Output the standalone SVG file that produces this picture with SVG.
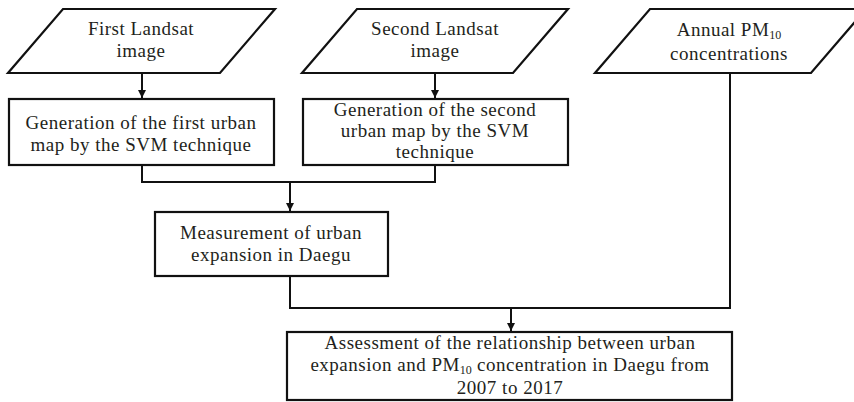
<svg xmlns="http://www.w3.org/2000/svg" width="854" height="402" viewBox="0 0 854 402">
  <style>
    .shape { fill: #ffffff; stroke: #111111; stroke-width: 2.2; }
    .link { fill: none; stroke: #111111; stroke-width: 2; }
    text { font-family: "Liberation Serif", "Times New Roman", serif; font-size: 19px; letter-spacing: 0.5px; fill: #231f20; text-anchor: middle; }
    .sub { font-size: 12px; letter-spacing: 0; }
  </style>
  <defs>
    <marker id="arrow" viewBox="0 0 10 10" refX="10" refY="5" markerWidth="4" markerHeight="4" orient="auto" markerUnits="strokeWidth">
      <path d="M0,0 L10,5 L0,10 Z" fill="#111111"/>
    </marker>
  </defs>
  <rect width="854" height="402" fill="#ffffff"/>

  <!-- connectors -->
  <g id="connectors">
    <path class="link" d="M142,73 V98" marker-end="url(#arrow)"/>
    <path class="link" d="M435,73 V98" marker-end="url(#arrow)"/>
    <path class="link" d="M142,165 V182 H435 V165"/>
    <path class="link" d="M290,182 V211" marker-end="url(#arrow)"/>
    <path class="link" d="M290,276 V308 H730 V73"/>
    <path class="link" d="M511,308 V331" marker-end="url(#arrow)"/>
  </g>

  <g id="first-landsat">
    <polygon class="shape" points="63,9 275,9 220,73 8,73"/>
    <text x="141" y="35">First Landsat</text>
    <text x="141" y="57">image</text>
  </g>

  <g id="second-landsat">
    <polygon class="shape" points="357,9 568,9 513,73 302,73"/>
    <text x="435" y="35">Second Landsat</text>
    <text x="435" y="57">image</text>
  </g>

  <g id="annual-pm10">
    <polygon class="shape" points="650,9 866,9 811,73 595,73"/>
    <text x="729" y="36">Annual PM<tspan class="sub" dy="3">10</tspan></text>
    <text x="729" y="60">concentrations</text>
  </g>

  <g id="first-urban-map">
    <rect class="shape" x="9" y="99" width="265" height="66"/>
    <text x="141" y="129">Generation of the first urban</text>
    <text x="141" y="151">map by the SVM technique</text>
  </g>

  <g id="second-urban-map">
    <rect class="shape" x="303" y="99" width="265" height="66"/>
    <text x="435" y="116">Generation of the second</text>
    <text x="435" y="137">urban map by the SVM</text>
    <text x="435" y="158">technique</text>
  </g>

  <g id="urban-expansion">
    <rect class="shape" x="155" y="212" width="233" height="64"/>
    <text x="271" y="239">Measurement of urban</text>
    <text x="271" y="261">expansion in Daegu</text>
  </g>

  <g id="assessment">
    <rect class="shape" x="287" y="332" width="445" height="68"/>
    <text x="510" y="349">Assessment of the relationship between urban</text>
    <text x="510" y="371">expansion and PM<tspan class="sub" dy="3">10</tspan><tspan dy="-3"> concentration in Daegu from</tspan></text>
    <text x="510" y="394">2007 to 2017</text>
  </g>
</svg>
